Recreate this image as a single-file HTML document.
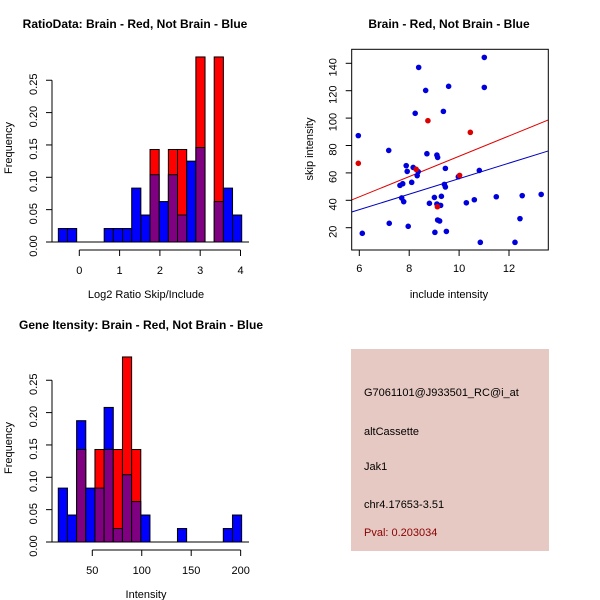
<!DOCTYPE html>
<html><head><meta charset="utf-8">
<style>
html,body{margin:0;padding:0;background:#fff;}
svg{display:block;font-family:"Liberation Sans",sans-serif;}
</style></head>
<body>
<svg id="c" width="600" height="600" viewBox="0 0 600 600">
<rect x="351" y="349" width="198" height="202" fill="#E6C9C3"/>
<g font-size="11" fill="#000">
<text x="364" y="396">G7061101@J933501_RC@i_at</text>
<text x="364" y="435">altCassette</text>
<text x="364" y="470">Jak1</text>
<text x="364" y="508">chr4.17653-3.51</text>
<text x="364" y="536" fill="#8B0000">Pval: 0.203034</text>
</g>
</svg>
<script>
// ---- Histogram 1 data (log2 ratio) ----
const h1Start = -0.52, h1Width = 0.2275;
const h1Blue = [0.0208,0.0208,0,0,0,0.0208,0.0208,0.0208,0.0833,0.0417,0.104,0.0625,0.104,0.0417,0.125,0.146,0,0.0625,0.0833,0.0417];
const h1Red  = [0,0,0,0,0,0,0,0,0,0,0.143,0,0.143,0.143,0,0.286,0,0.286,0,0];
const h1XTicks = [0,1,2,3,4];
// ---- Histogram 2 data (intensity) ----
const h2Start = 15.6, h2Width = 9.27;
const h2Blue = [0.0833,0.0417,0.1875,0.0833,0.0833,0.208,0.0208,0.104,0.0625,0.0417,0,0,0,0.0208,0,0,0,0,0.0208,0.0417];
const h2Red  = [0,0,0.143,0,0.143,0.143,0.143,0.286,0.143,0,0,0,0,0,0,0,0,0,0,0];
const h2XTicks = [50,100,150,200];
const yTicks = [0,0.05,0.10,0.15,0.20,0.25];
const yTickLabels = ["0.00","0.05","0.10","0.15","0.20","0.25"];
// ---- Scatter data ----
const blueX = [5.96,6.12,7.18,7.20,7.63,7.70,7.74,7.78,7.88,7.92,7.96,8.10,8.16,8.24,8.32,8.38,8.36,8.66,8.71,8.81,9.01,9.03,9.11,9.14,9.11,9.14,9.22,9.26,9.29,9.37,9.41,9.45,9.45,9.49,9.58,9.97,10.29,10.61,10.81,10.85,11.01,11.01,11.49,12.24,12.44,12.53,13.29];
const blueY = [87.2,15.9,76.4,23.2,50.9,41.7,52.1,39,65.3,61.1,21,53.1,64,103.5,58,137,60.9,120.2,74,37.8,42.1,16.6,73,71.3,37.3,25.6,24.9,36.3,42.9,104.9,51.6,63.3,49.7,17.3,123.2,57.2,38.2,40.4,61.8,9.3,144.3,122.4,42.6,9.3,26.6,43.4,44.3];
const redX = [5.96,8.28,8.75,9.13,10.02,10.45];
const redY = [67,62.6,98.1,35.3,58.2,89.6];
const redFit = [-1.96,7.41];   // intercept, slope
const blueFit = [-0.8,5.66];
const sxTicks = [6,8,10,12];
const syTicks = [20,40,60,80,100,120,140];

const svg = document.getElementById('c');
const NS = 'http://www.w3.org/2000/svg';
function mk(tag, attrs, parent){
  const e = document.createElementNS(NS, tag);
  for (const k in attrs) e.setAttribute(k, attrs[k]);
  (parent||svg).appendChild(e);
  return e;
}
function txt(x,y,s,opts,parent){
  const t = mk('text',{x:x,y:y,'font-size':opts.size||11,'text-anchor':opts.anchor||'middle','font-weight':opts.bold?'bold':'normal'},parent);
  if (opts.rot) t.setAttribute('transform','rotate(-90 '+x+' '+y+')');
  t.textContent = s;
  return t;
}

function hist(cfg){
  const g = mk('g',{});
  
  
  const X = v => cfg.x0 + (v - cfg.xv0) * cfg.xs;
  const Y = v => cfg.y0 - v * cfg.ys;
  const n = cfg.blue.length;
  for (let i=0;i<n;i++){
    const a = X(cfg.start + i*cfg.width), b = X(cfg.start + (i+1)*cfg.width);
    const bv = cfg.blue[i], rv = cfg.red[i], m = Math.min(bv, rv);
    const hi = Math.max(bv, rv);
    if (hi > 0){
      const r = mk('rect',{x:a,y:Y(hi),width:b-a,height:Y(0)-Y(hi),fill: rv>bv?'#FF0000':'#0000FF',stroke:'#000','stroke-width':1},g);
      
      
    }
    if (m > 0){
      const p = mk('rect',{x:a,y:Y(m),width:b-a,height:Y(0)-Y(m),fill:'#7F0080',stroke:'#000','stroke-width':1},g);
      
      
    }
  }
  mk('line',{x1:52,x2:249,y1:Y(0),y2:Y(0),stroke:'#000'},g);
  // y axis
  const ya = mk('g',{},g);
  
  
  mk('line',{x1:52,x2:52,y1:Y(0),y2:Y(0.25),stroke:'#000'},ya);
  yTicks.forEach((v,i)=>{
    mk('line',{x1:46,x2:52,y1:Y(v),y2:Y(v),stroke:'#000'},ya);
    txt(37,Y(v)+4,yTickLabels[i],{rot:true},ya);
  });
  // x axis
  const xa = mk('g',{},g);
  
  
  const ay = cfg.y0 + 8;
  mk('line',{x1:X(cfg.ticks[0]),x2:X(cfg.ticks[cfg.ticks.length-1]),y1:ay,y2:ay,stroke:'#000'},xa);
  cfg.ticks.forEach(v=>{
    mk('line',{x1:X(v),x2:X(v),y1:ay,y2:ay+6,stroke:'#000'},xa);
    txt(X(v),ay+24,String(v),{},xa);
  });
  const t = txt(cfg.titleX, cfg.titleY, cfg.title, {bold:true, size:12}, g);
  
  
  const xl = txt(146, cfg.y0+56, cfg.xlabel, {}, g);
  
  
  const yl = txt(12, cfg.y0-94, 'Frequency', {rot:true}, g);
  
  
}

hist({name:'ratio-histogram',x0:79.3,xv0:0,xs:40.3,y0:242,ys:647,start:h1Start,width:h1Width,blue:h1Blue,red:h1Red,ticks:h1XTicks,
  title:'RatioData: Brain - Red, Not Brain - Blue',titleX:135,titleY:28,xlabel:'Log2 Ratio Skip/Include'});
hist({name:'intensity-histogram',x0:92.3,xv0:50,xs:0.989,y0:542,ys:647,start:h2Start,width:h2Width,blue:h2Blue,red:h2Red,ticks:h2XTicks,
  title:'Gene Itensity: Brain - Red, Not Brain - Blue',titleX:141,titleY:329,xlabel:'Intensity'});

// scatter
(function(){
  const g = mk('g',{});
  
  
  const L=351.7,R=548.3,T=49.3,B=250;
  const X = v => 359.3 + (v-6)*24.95;
  const Y = v => 227.7 - (v-20)*1.37;
  mk('clipPath',{id:'sc'},g);
  mk('rect',{x:L,y:T,width:R-L,height:B-T},document.getElementById('sc'));
  const xv0 = (L-359.3)/24.95+6, xv1 = (R-359.3)/24.95+6;
  [[redFit,'#E00000','red-fit-line'],[blueFit,'#0000C0','blue-fit-line']].forEach(f=>{
    const l = mk('line',{x1:L,x2:R,y1:Y(f[0][0]+f[0][1]*xv0),y2:Y(f[0][0]+f[0][1]*xv1),stroke:f[1],'stroke-width':1,'clip-path':'url(#sc)'},g);
    
    
  });
  blueX.forEach((x,i)=>{
    const c = mk('circle',{cx:X(x),cy:Y(blueY[i]),r:2.8,fill:'#0000DD'},g);
    
    
  });
  redX.forEach((x,i)=>{
    const c = mk('circle',{cx:X(x),cy:Y(redY[i]),r:2.8,fill:'#DD0000'},g);
    
    
  });
  mk('rect',{x:L,y:T,width:R-L,height:B-T,fill:'none',stroke:'#000'},g);
  sxTicks.forEach(v=>{
    mk('line',{x1:X(v),x2:X(v),y1:B,y2:B+6,stroke:'#000'},g);
    txt(X(v),B+22,String(v),{},g);
  });
  syTicks.forEach(v=>{
    mk('line',{x1:L-6,x2:L,y1:Y(v),y2:Y(v),stroke:'#000'},g);
    txt(L-15,Y(v)+4,String(v),{rot:true},g);
  });
  const t = txt(449,28,'Brain - Red, Not Brain - Blue',{bold:true,size:12},g);
  
  
  const xl = txt(449,298,'include intensity',{},g);
  
  
  const yl = txt(313,149,'skip intensity',{rot:true},g);
  
  
})();
</script>
</body></html>
